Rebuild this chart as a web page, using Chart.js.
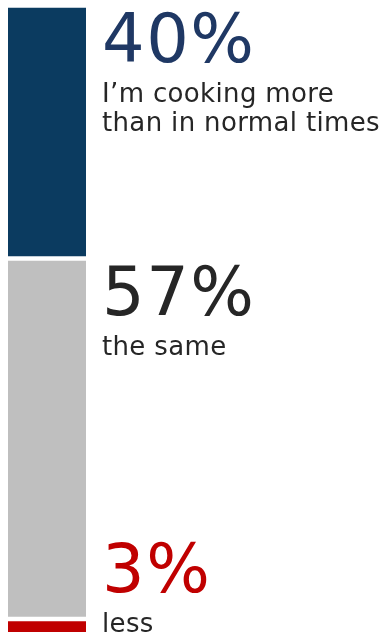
<!DOCTYPE html>
<html>
<head>
<meta charset="utf-8">
<script src="https://cdn.jsdelivr.net/npm/chart.js@4"></script>
<style>
  html, body { margin: 0; padding: 0; background: #fff; }
  #wrap { width: 385px; height: 632px; overflow: hidden; }
</style>
</head>
<body>
<div id="wrap"><canvas id="c" width="385" height="640"></canvas></div>
<script>
'use strict';

// Dados (ordem de empilhamento: de baixo para cima)
const SERIES = ['less', 'the same', 'more'];
const VALUES = [3, 57, 40];
const VALUE_LABELS = ['3%', '57%', '40%'];
const DESCRIPTIONS = [['less'], ['the same'], ['I\u2019m cooking more', 'than in normal times']];

const BAR_COLORS = ['#c00000', '#bfbfbf', '#0b3b60'];
const NUM_COLORS = ['#c00000', '#262626', '#1f3864'];
const FONT = '"DejaVu Sans", Verdana, sans-serif';

// Rótulos à direita da barra
const sideLabels = {
  id: 'sideLabels',
  afterDatasetsDraw(chart) {
    const ctx = chart.ctx;
    const x = 102;
    ctx.save();
    ctx.textAlign = 'left';
    ctx.textBaseline = 'alphabetic';
    chart.data.datasets.forEach((ds, i) => {
      const bar = chart.getDatasetMeta(i).data[0];
      // o último segmento (pequeno) recebe o rótulo acima dele
      const base = i === 0 ? bar.y - 27 : bar.y + 56;
      ctx.fillStyle = NUM_COLORS[i];
      ctx.font = '67px ' + FONT;
      ctx.letterSpacing = '1.5px';
      ctx.fillText(VALUE_LABELS[i], x, base);
      ctx.fillStyle = '#262626';
      ctx.font = '26px ' + FONT;
      ctx.letterSpacing = '0.35px';
      DESCRIPTIONS[i].forEach((line, j) => {
        ctx.fillText(line, x, base + 40 + j * 29);
      });
    });
    ctx.restore();
  }
};

new Chart(document.getElementById('c'), {
  type: 'bar',
  data: {
    labels: [''],
    datasets: SERIES.map((name, i) => ({
      label: name,
      data: [VALUES[i]],
      backgroundColor: BAR_COLORS[i],
      borderColor: '#ffffff',
      borderWidth: { top: 2.5, bottom: 2.5, left: 0, right: 0 },
      borderSkipped: false,
      barPercentage: 1,
      categoryPercentage: 1,
    })),
  },
  options: {
    responsive: false,
    animation: false,
    devicePixelRatio: 1,
    layout: { padding: { left: 8, right: 299, top: 5.5, bottom: 2 } },
    plugins: { legend: { display: false }, tooltip: { enabled: false } },
    scales: {
      x: { display: false, stacked: true },
      y: { display: false, stacked: true, min: 0, max: 100 },
    },
  },
  plugins: [sideLabels],
});
</script>
</body>
</html>
